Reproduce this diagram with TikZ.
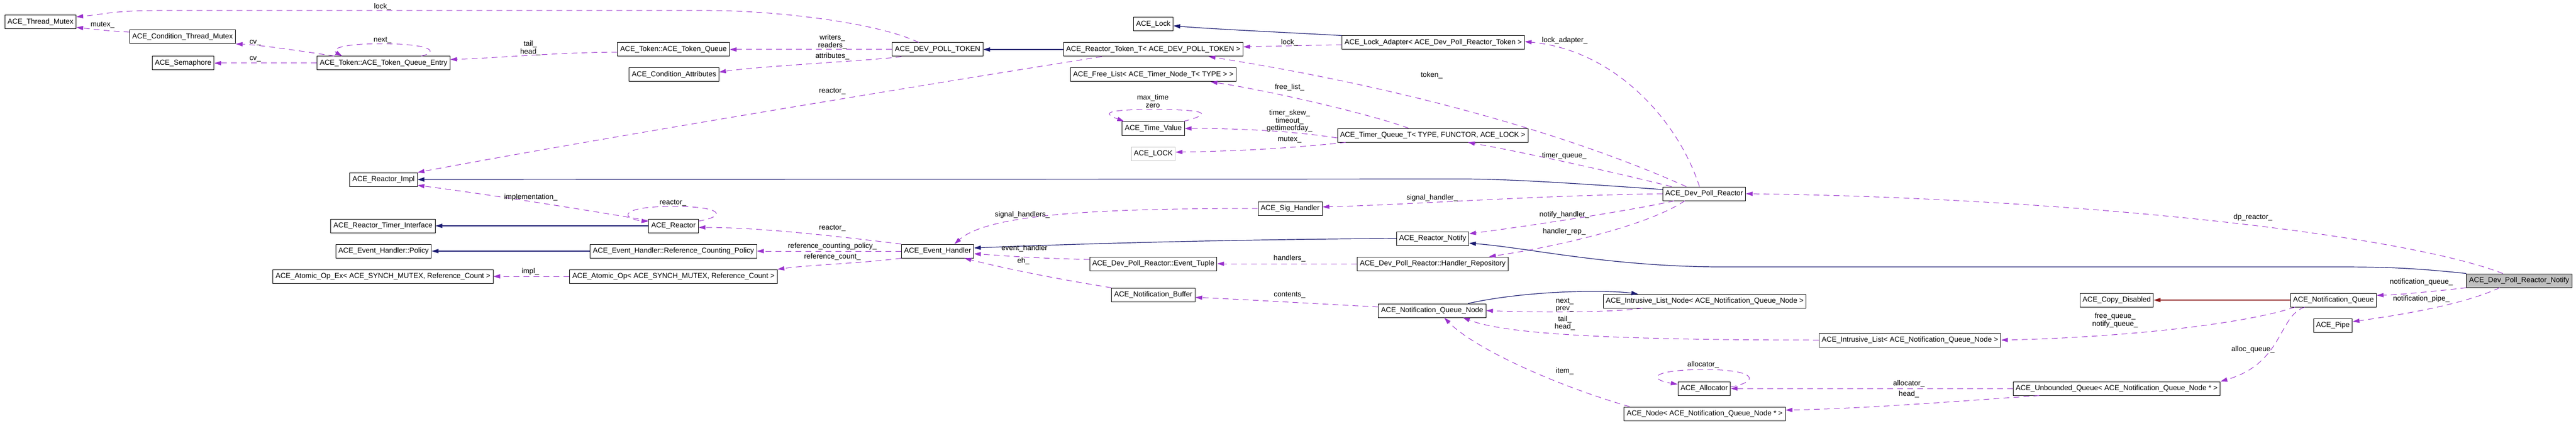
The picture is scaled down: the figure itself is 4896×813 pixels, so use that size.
\documentclass[tikz,border=0pt]{standalone}
\usepackage{fontspec}
\setmainfont{Liberation Sans}
\usepackage{tikz}
\usetikzlibrary{arrows.meta,calc,positioning}
\definecolor{usecolor}{HTML}{9A32CD}
\definecolor{basecolor}{HTML}{191970}
\definecolor{privcolor}{HTML}{8B1A1A}
\tikzstyle{element}=[
  draw=black,
  fill=white,
  font={\fontsize{13.8}{15}\selectfont},
  inner xsep=5pt,
  inner ysep=0pt,
  line width=1pt,
  minimum height=26pt,
  rectangle,
  text centered,
]
\tikzstyle{usage}=[
  color=usecolor,
  dash pattern=on 11pt off 8pt,
  line width=1pt,
]
\tikzstyle{derive}=[
  color=basecolor,
  line width=1.2pt,
]
\tikzstyle{privderive}=[
  color=privcolor,
  line width=1.2pt,
]
\tikzstyle{arrowlabel}=[
  align=center,
  font={\fontsize{13.8}{14.5}\selectfont},
  inner sep=0pt,
]
\tikzset{
  >={Triangle[length=13pt,width=8pt]},
}
\begin{document}
\begin{tikzpicture}[x=1pt, y=-1pt]
  \useasboundingbox (0,0) rectangle (4896,813);
  \node (threadmutex) [element] at (77,42) {ACE\_Thread\_Mutex};
  \node (condmutex) [element] at (347,70) {ACE\_Condition\_Thread\_Mutex};
  \node (semaphore) [element] at (348,120) {ACE\_Semaphore};
  \node (tqentry) [element] at (729,120) {ACE\_Token::ACE\_Token\_Queue\_Entry};
  \node (reactorimpl) [element] at (729,341) {ACE\_Reactor\_Impl};
  \node (timeriface) [element] at (728,429) {ACE\_Reactor\_Timer\_Interface};
  \node (ehpolicy) [element] at (729,477) {ACE\_Event\_Handler::Policy};
  \node (atomicopex) [element] at (728,525) {ACE\_Atomic\_Op\_Ex< ACE\_SYNCH\_MUTEX, Reference\_Count >};
  %%
  \node (tokenqueue) [element] at (1280,94) {ACE\_Token::ACE\_Token\_Queue};
  \node (condattr) [element] at (1281,142) {ACE\_Condition\_Attributes};
  \node (reactor) [element] at (1280,429) {ACE\_Reactor};
  \node (refpolicy) [element] at (1280,477) {ACE\_Event\_Handler::Reference\_Counting\_Policy};
  \node (atomicop) [element] at (1280,525) {ACE\_Atomic\_Op< ACE\_SYNCH\_MUTEX, Reference\_Count >};
  %%
  \node (devpolltoken) [element] at (1782,94) {ACE\_DEV\_POLL\_TOKEN};
  \node (eventhandler) [element] at (1782,477) {ACE\_Event\_Handler};
  %%
  \node (acelock) [element] at (2192,46) {ACE\_Lock};
  \node (reactortoken) [element] at (2192,94) {ACE\_Reactor\_Token\_T< ACE\_DEV\_POLL\_TOKEN >};
  \node (freelist) [element] at (2192,142) {ACE\_Free\_List< ACE\_Timer\_Node\_T< TYPE > >};
  \node (timevalue) [element] at (2192,244) {ACE\_Time\_Value};
  \node (lockparam) [element, draw=black!25] at (2192,292) {ACE\_LOCK};
  \node (eventtuple) [element] at (2192,501) {ACE\_Dev\_Poll\_Reactor::Event\_Tuple};
  \node (notifbuffer) [element] at (2192,560) {ACE\_Notification\_Buffer};
  \node (sighandler) [element] at (2452,396) {ACE\_Sig\_Handler};
  %%
  \node (lockadapter) [element] at (2724,81) {ACE\_Lock\_Adapter< ACE\_Dev\_Poll\_Reactor\_Token >};
  \node (timerqueue) [element] at (2723,257) {ACE\_Timer\_Queue\_T< TYPE, FUNCTOR, ACE\_LOCK >};
  \node (reactornotify) [element] at (2723,453) {ACE\_Reactor\_Notify};
  \node (handlerrepo) [element] at (2723,501) {ACE\_Dev\_Poll\_Reactor::Handler\_Repository};
  \node (nqnode) [element] at (2722,590) {ACE\_Notification\_Queue\_Node};
  %%
  \node (devpollreactor) [element] at (3239,368) {ACE\_Dev\_Poll\_Reactor};
  \node (ilistnode) [element] at (3240,572) {ACE\_Intrusive\_List\_Node< ACE\_Notification\_Queue\_Node >};
  \node (allocator) [element] at (3239,738) {ACE\_Allocator};
  \node (acenode) [element] at (3240,786) {ACE\_Node< ACE\_Notification\_Queue\_Node * >};
  \node (ilist) [element] at (3630,646) {ACE\_Intrusive\_List< ACE\_Notification\_Queue\_Node >};
  \node (copydisabled) [element] at (4023,570) {ACE\_Copy\_Disabled};
  \node (unboundedq) [element] at (4023,738) {ACE\_Unbounded\_Queue< ACE\_Notification\_Queue\_Node * >};
  \node (notifqueue) [element] at (4435,570) {ACE\_Notification\_Queue};
  \node (pipe) [element] at (4434,618) {ACE\_Pipe};
  \node (notify) [element, fill=black!25] at (4788,533) {ACE\_Dev\_Poll\_Reactor\_Notify};
  %%
  \draw [->, usage] ([xshift=-36pt]devpolltoken.north) .. controls (1660,40) and (1460,20) .. (1349,20)
    -- (293,20) .. controls (220,20) and (190,28) .. ([yshift=10pt]threadmutex.east);
  \draw [->, usage] ([yshift=9pt]condmutex.west) .. controls (200,58) .. ([yshift=-10pt]threadmutex.east);
  \draw [->, usage] ([xshift=33pt]tqentry.north west) .. controls (560,95) and (490,85) .. (condmutex.south east);
  \draw [->, usage] (tqentry.west) -- (semaphore.east);
  \draw [->, usage] ([xshift=-55pt]tqentry.north east) .. controls (830,100) and (830,84) .. (727,83)
    .. controls (640,83) and (630,95) .. ([xshift=48pt]tqentry.north west);
  \draw [->, usage] ([yshift=-5pt]tokenqueue.west) .. controls (1050,100) and (950,110) .. ([yshift=7pt]tqentry.east);
  \draw [->, usage] (devpolltoken.west) -- (tokenqueue.east);
  \draw [->, usage] ([xshift=18pt]devpolltoken.south west) .. controls (1660,115) and (1450,125) .. ([yshift=5pt]condattr.east);
  \draw [->, derive] (reactortoken.west) -- (devpolltoken.east);
  \draw [->, usage] ([xshift=73pt]reactortoken.south west) .. controls (1700,170) and (1100,270) .. (reactorimpl.north east);
  \draw [->, derive] ([yshift=8pt]devpollreactor.west) .. controls (2950,345) and (2850,340) .. (2780,340) -- (reactorimpl.east);
  \draw [->, usage] ([yshift=10pt]reactor.west) .. controls (1150,405) and (950,372) .. ([yshift=-11pt]reactorimpl.east);
  \draw [->, usage] ([yshift=9pt]reactor.east) .. controls (1385,410) and (1370,392) .. (1280,392)
    .. controls (1175,392) and (1180,415) .. ([yshift=8pt]reactor.west);
  \draw [->, derive] (reactor.west) -- (timeriface.east);
  \draw [->, usage] (eventhandler.north west) .. controls (1600,450) and (1450,432) .. ([yshift=-3pt]reactor.east);
  \draw [->, derive] (refpolicy.west) -- (ehpolicy.east);
  \draw [->, usage] (eventhandler.west) -- (refpolicy.east);
  \draw [->, usage] (eventhandler.south west) .. controls (1640,500) and (1540,503) .. (atomicop.north east);
  \draw [->, usage] (atomicop.west) -- (atomicopex.east);
  %%
  \draw [->, derive] (lockadapter.north west) .. controls (2450,62) and (2300,55) .. ([yshift=-3pt]acelock.east);
  \draw [->, usage] ([yshift=-4pt]lockadapter.west) .. controls (2450,87) .. ([yshift=5pt]reactortoken.east);
  \draw [->, usage] ([xshift=-9pt]devpollreactor.north) .. controls (3190,230) and (3070,95) .. ([yshift=2pt]lockadapter.east);
  \draw [->, usage] ([xshift=-34pt]devpollreactor.north) .. controls (3005,265) and (2698,171) .. ([xshift=-66pt]reactortoken.south east);
  \draw [->, usage] ([xshift=-46pt]timerqueue.north) .. controls (2600,215) and (2400,170) .. ([xshift=-49pt]freelist.south east);
  \draw [->, usage] ([xshift=-2pt]timevalue.north east) .. controls (2310,215) and (2290,208) .. (2192,208)
    .. controls (2100,208) and (2095,215) .. ([xshift=4pt]timevalue.north west);
  \draw [->, usage] ([yshift=-5pt]timerqueue.west) .. controls (2450,248) and (2350,244) .. (timevalue.east);
  \draw [->, usage] ([xshift=16pt]timerqueue.south west) .. controls (2450,282) and (2350,287) .. ([yshift=3pt]lockparam.east);
  \draw [->, usage] ([xshift=17pt]devpollreactor.north west) .. controls (3080,330) and (2900,290) .. ([xshift=67pt]timerqueue.south);
  \draw [->, usage] (devpollreactor.west) .. controls (2900,372) and (2700,388) .. ([yshift=3pt]sighandler.east);
  \draw [->, usage] (sighandler.west) .. controls (2100,396) and (1880,405) .. ([xshift=32pt]eventhandler.north);
  \draw [->, derive] (reactornotify.west) .. controls (2300,455) and (2000,465) .. ([yshift=6pt]eventhandler.east);
  \draw [->, usage] ([yshift=8pt]eventtuple.west) .. controls (1970,490) .. ([yshift=-5pt]eventhandler.east);
  \draw [->, usage] (notifbuffer.north west) .. controls (1960,522) and (1870,500) .. ([xshift=51pt]eventhandler.south);
  \draw [->, usage] ([xshift=22pt]devpollreactor.south west) .. controls (3100,400) and (2900,430) .. ([yshift=9pt]reactornotify.east);
  \draw [->, usage] ([xshift=-37pt]devpollreactor.south) .. controls (3130,430) and (2950,470) .. ([xshift=-37pt]handlerrepo.north east);
  \draw [->, usage] (handlerrepo.west) -- (eventtuple.east);
  \draw [->, derive] (notify.north west) .. controls (4580,508) and (4520,507) .. (4440,507) -- (3260,507)
    .. controls (3050,505) and (2900,470) .. ([yshift=-9pt]reactornotify.east);
  \draw [->, usage] ([yshift=7pt]nqnode.west) .. controls (2500,577) and (2350,568) .. ([yshift=-5pt]notifbuffer.east);
  \draw [->, derive] ([xshift=68pt]nqnode.north) .. controls (2900,552) and (3050,550) .. ([xshift=67pt]ilistnode.north west);
  \draw [->, usage] ([xshift=75pt]ilistnode.south west) .. controls (3050,595) and (2900,593) .. (nqnode.east);
  \draw [->, usage] (ilist.west) .. controls (3000,646) and (2850,630) .. ([xshift=-44pt]nqnode.south east);
  \draw [->, usage] ([xshift=11pt]acenode.north west) .. controls (2950,730) and (2800,660) .. ([xshift=23pt]nqnode.south);
  %%
  \draw [->, usage] ([yshift=3pt]allocator.east) .. controls (3345,725) and (3340,702) .. (3240,702)
    .. controls (3140,702) and (3130,720) .. ([yshift=8pt]allocator.west);
  \draw [->, usage] (unboundedq.west) -- (allocator.east);
  \draw [->, usage] ([xshift=50pt]unboundedq.south west) .. controls (3750,760) and (3550,776) .. ([yshift=7pt]acenode.east);
  \draw [->, usage] ([xshift=9pt]notifqueue.south west) .. controls (4250,620) and (4000,642) .. (ilist.east);
  \draw [->, privderive] (notifqueue.west) -- (copydisabled.east);
  \draw [->, usage] ([xshift=-55pt]notifqueue.south) .. controls (4330,600) and (4340,690) .. (unboundedq.north east);
  \draw [->, usage] ([xshift=-31pt]notify.north) .. controls (4550,440) and (3900,375) .. (devpollreactor.east);
  \draw [->, usage] (notify.south west) .. controls (4640,552) and (4560,560) .. ([yshift=9pt]notifqueue.east);
  \draw [->, usage] ([xshift=-37pt]notify.south) .. controls (4680,580) and (4550,600) .. ([yshift=7pt]pipe.east);
  %%
  \node [arrowlabel] at (727,13) {lock\_};
  \node [arrowlabel] at (195,47) {mutex\_};
  \node [arrowlabel] at (485,81) {cv\_};
  \node [arrowlabel] at (485,112) {cv\_};
  \node [arrowlabel] at (727,76) {next\_};
  \node [arrowlabel] at (1008,91.5) {tail\_\\head\_};
  \node [arrowlabel] at (1582,79.5) {writers\_\\readers\_};
  \node [arrowlabel] at (1582,107) {attributes\_};
  \node [arrowlabel] at (1582,173) {reactor\_};
  \node [arrowlabel] at (1009,375) {implementation\_};
  \node [arrowlabel] at (1279,385) {reactor\_};
  \node [arrowlabel] at (1582,433) {reactor\_};
  \node [arrowlabel] at (1582,468) {reference\_counting\_policy\_};
  \node [arrowlabel] at (1582,488) {reference\_count\_};
  \node [arrowlabel] at (1008,516) {impl\_};
  \node [arrowlabel] at (2191,192) {max\_time\\zero};
  \node [arrowlabel] at (1943,408) {signal\_handlers\_};
  \node [arrowlabel] at (1947,472) {event\_handler};
  \node [arrowlabel] at (1945,496) {eh\_};
  \node [arrowlabel] at (2451,81) {lock\_};
  \node [arrowlabel] at (2974,77) {lock\_adapter\_};
  \node [arrowlabel] at (2721,143) {token\_};
  \node [arrowlabel] at (2451,166) {free\_list\_};
  \node [arrowlabel] at (2451,229.5) {timer\_skew\_\\timeout\_\\gettimeofday\_};
  \node [arrowlabel] at (2451,265) {mutex\_};
  \node [arrowlabel] at (2973,296) {timer\_queue\_};
  \node [arrowlabel] at (2722,376) {signal\_handler\_};
  \node [arrowlabel] at (2973,408) {notify\_handler\_};
  \node [arrowlabel] at (2973,440) {handler\_rep\_};
  \node [arrowlabel] at (2451,491) {handlers\_};
  \node [arrowlabel] at (2451,560) {contents\_};
  \node [arrowlabel] at (2974,579.5) {next\_\\prev\_};
  \node [arrowlabel] at (2974,614) {tail\_\\head\_};
  \node [arrowlabel] at (2974,705) {item\_};
  \node [arrowlabel] at (3237,693) {allocator\_};
  \node [arrowlabel] at (3628,729) {allocator\_};
  \node [arrowlabel] at (3628,749) {head\_};
  \node [arrowlabel] at (4020,608.5) {free\_queue\_\\notify\_queue\_};
  \node [arrowlabel] at (4282,413) {dp\_reactor\_};
  \node [arrowlabel] at (4282,664) {alloc\_queue\_};
  \node [arrowlabel] at (4602,536) {notification\_queue\_};
  \node [arrowlabel] at (4602,568) {notification\_pipe\_};
\end{tikzpicture}
\end{document}
